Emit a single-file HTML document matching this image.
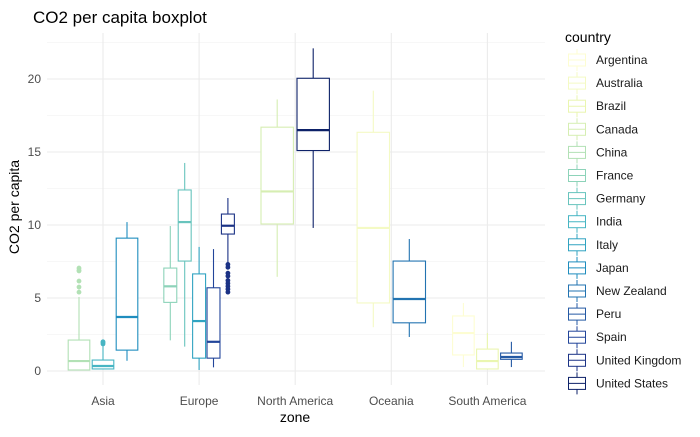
<!DOCTYPE html>
<html><head><meta charset="utf-8"><style>
body{margin:0;background:#fff;font-family:"Liberation Sans",sans-serif}
svg text{font-family:"Liberation Sans",sans-serif}
</style></head><body>
<svg id="chart" width="700" height="432" xmlns="http://www.w3.org/2000/svg">
<text x="33" y="23" font-size="17" fill="#000">CO2 per capita boxplot</text>
<g id="grid"></g><g id="marks"></g><g id="axes"></g><g id="legend"></g>
<text x="295" y="422" font-size="14" text-anchor="middle" fill="#000">zone</text>
<text transform="translate(19,207) rotate(-90)" font-size="14" text-anchor="middle" fill="#000">CO2 per capita</text>
</svg>
<script>
const zones=["Asia","Europe","North America","Oceania","South America"];
const countries=["Argentina","Australia","Brazil","Canada","China","France","Germany","India","Italy","Japan","New Zealand","Peru","Spain","United Kingdom","United States"];
const colors=["#fdfdd2","#f4fac4","#eaf6b0","#d6eeb2","#b2e1b5","#8dd3b9","#68c4bd","#47b5c3","#30a3c1","#1e8dbe","#2273b1","#2459a4","#22459a","#1b3285","#0d2168"];
const boxZone=["Asia","Asia","Asia","Europe","Europe","Europe","Europe","Europe","North America","North America","Oceania","Oceania","South America","South America","South America"];
const boxCountry=["China","India","Japan","France","Germany","Italy","Spain","United Kingdom","Canada","United States","Australia","New Zealand","Argentina","Brazil","Peru"];
const whiskerLow=[0.07,0.14,0.7,2.1,1.67,0.07,0.25,7.4,6.45,9.8,3.0,2.33,0.27,0.1,0.27];
const q1=[0.07,0.14,1.43,4.7,7.53,0.88,0.88,9.38,10.07,15.1,4.66,3.3,1.1,0.14,0.8];
const median=[0.68,0.34,3.7,5.8,10.2,3.42,2.0,9.95,12.3,16.5,9.8,4.93,2.6,0.68,0.96];
const q3=[2.12,0.75,9.1,7.05,12.4,6.65,5.7,10.75,16.7,20.05,16.35,7.53,3.77,1.5,1.23];
const whiskerHigh=[5.07,1.9,10.2,9.93,14.25,8.5,8.35,11.85,18.6,22.1,19.2,9.04,4.66,2.6,2.0];
const outliers=[[7.05,6.9,6.85,6.16,5.75,5.4],[1.85,1.95,2.0],[],[],[],[],[],[7.3,7.1,6.7,6.5,6.2,6.0,5.8,5.6,5.4],[],[],[],[],[],[],[]];
const yTicks=[0,5,10,15,20];
const yMinor=[2.5,7.5,12.5,17.5,22.5];

const NS="http://www.w3.org/2000/svg";
const px0=55,px1=545,pyTop=33,pyBot=385;
const y=v=>371-v*14.6;
const xBand=i=>103+i*96.1;
function mk(tag,attrs,parent){const e=document.createElementNS(NS,tag);for(const k in attrs)e.setAttribute(k,attrs[k]);parent.appendChild(e);return e;}
const grid=document.getElementById('grid'),marks=document.getElementById('marks'),axes=document.getElementById('axes'),legend=document.getElementById('legend');
yMinor.forEach(t=>{const l=mk('line',{x1:px0-8,x2:px1,y1:y(t),y2:y(t),stroke:'#f0f0f0','stroke-width':0.6},grid);

});
yTicks.forEach(t=>{const l=mk('line',{x1:px0-8,x2:px1,y1:y(t),y2:y(t),stroke:'#ebebeb','stroke-width':1.1},grid);


const tx=mk('text',{x:41,y:y(t)+4,'font-size':12,fill:'#4d4d4d','text-anchor':'end'},axes);tx.textContent=t;

});
zones.forEach((z,i)=>{const l=mk('line',{x1:xBand(i),x2:xBand(i),y1:pyTop,y2:pyBot,stroke:'#ebebeb','stroke-width':1.1},grid);


const tx=mk('text',{x:xBand(i),y:405,'font-size':12,fill:'#4d4d4d','text-anchor':'middle'},axes);tx.textContent=z;

});
boxCountry.forEach((c,i)=>{
  const z=zones.indexOf(boxZone[i]);
  const members=boxCountry.filter((_,j)=>boxZone[j]===boxZone[i]);
  const n=members.length,k=members.indexOf(c);
  const slot=72/n,cx=xBand(z)-36+slot*(k+0.5),w=slot*0.9;
  const col=colors[countries.indexOf(c)];
  const g=mk('g',{},marks);
  
  
  mk('line',{x1:cx,x2:cx,y1:y(whiskerHigh[i]),y2:y(q3[i]),stroke:col,'stroke-width':1.1},g);
  mk('line',{x1:cx,x2:cx,y1:y(q1[i]),y2:y(whiskerLow[i]),stroke:col,'stroke-width':1.1},g);
  mk('rect',{x:cx-w/2,y:y(q3[i]),width:w,height:Math.max(0.5,y(q1[i])-y(q3[i])),fill:'#fff',stroke:col,'stroke-width':1.1},g);
  mk('line',{x1:cx-w/2,x2:cx+w/2,y1:y(median[i]),y2:y(median[i]),stroke:col,'stroke-width':2.2},g);
  outliers[i].forEach(v=>mk('circle',{cx:cx,cy:y(v),r:2.4,fill:col},g));
});
mk('text',{x:565,y:42,'font-size':14,fill:'#000'},legend).textContent='country';
countries.forEach((c,i)=>{
  const ly=60+i*23.1,col=colors[i];
  const g=mk('g',{},legend);
  
  
  mk('line',{x1:577,x2:577,y1:ly-11,y2:ly+11,stroke:col,'stroke-width':1},g);
  mk('rect',{x:568.5,y:ly-6,width:17,height:12,fill:'#fff',stroke:col,'stroke-width':1},g);
  mk('line',{x1:568.5,x2:585.5,y1:ly,y2:ly,stroke:col,'stroke-width':1},g);
  const t=mk('text',{x:596,y:ly+4,'font-size':12,fill:'#1a1a1a'},g);t.textContent=c;
});
</script>
</body></html>
